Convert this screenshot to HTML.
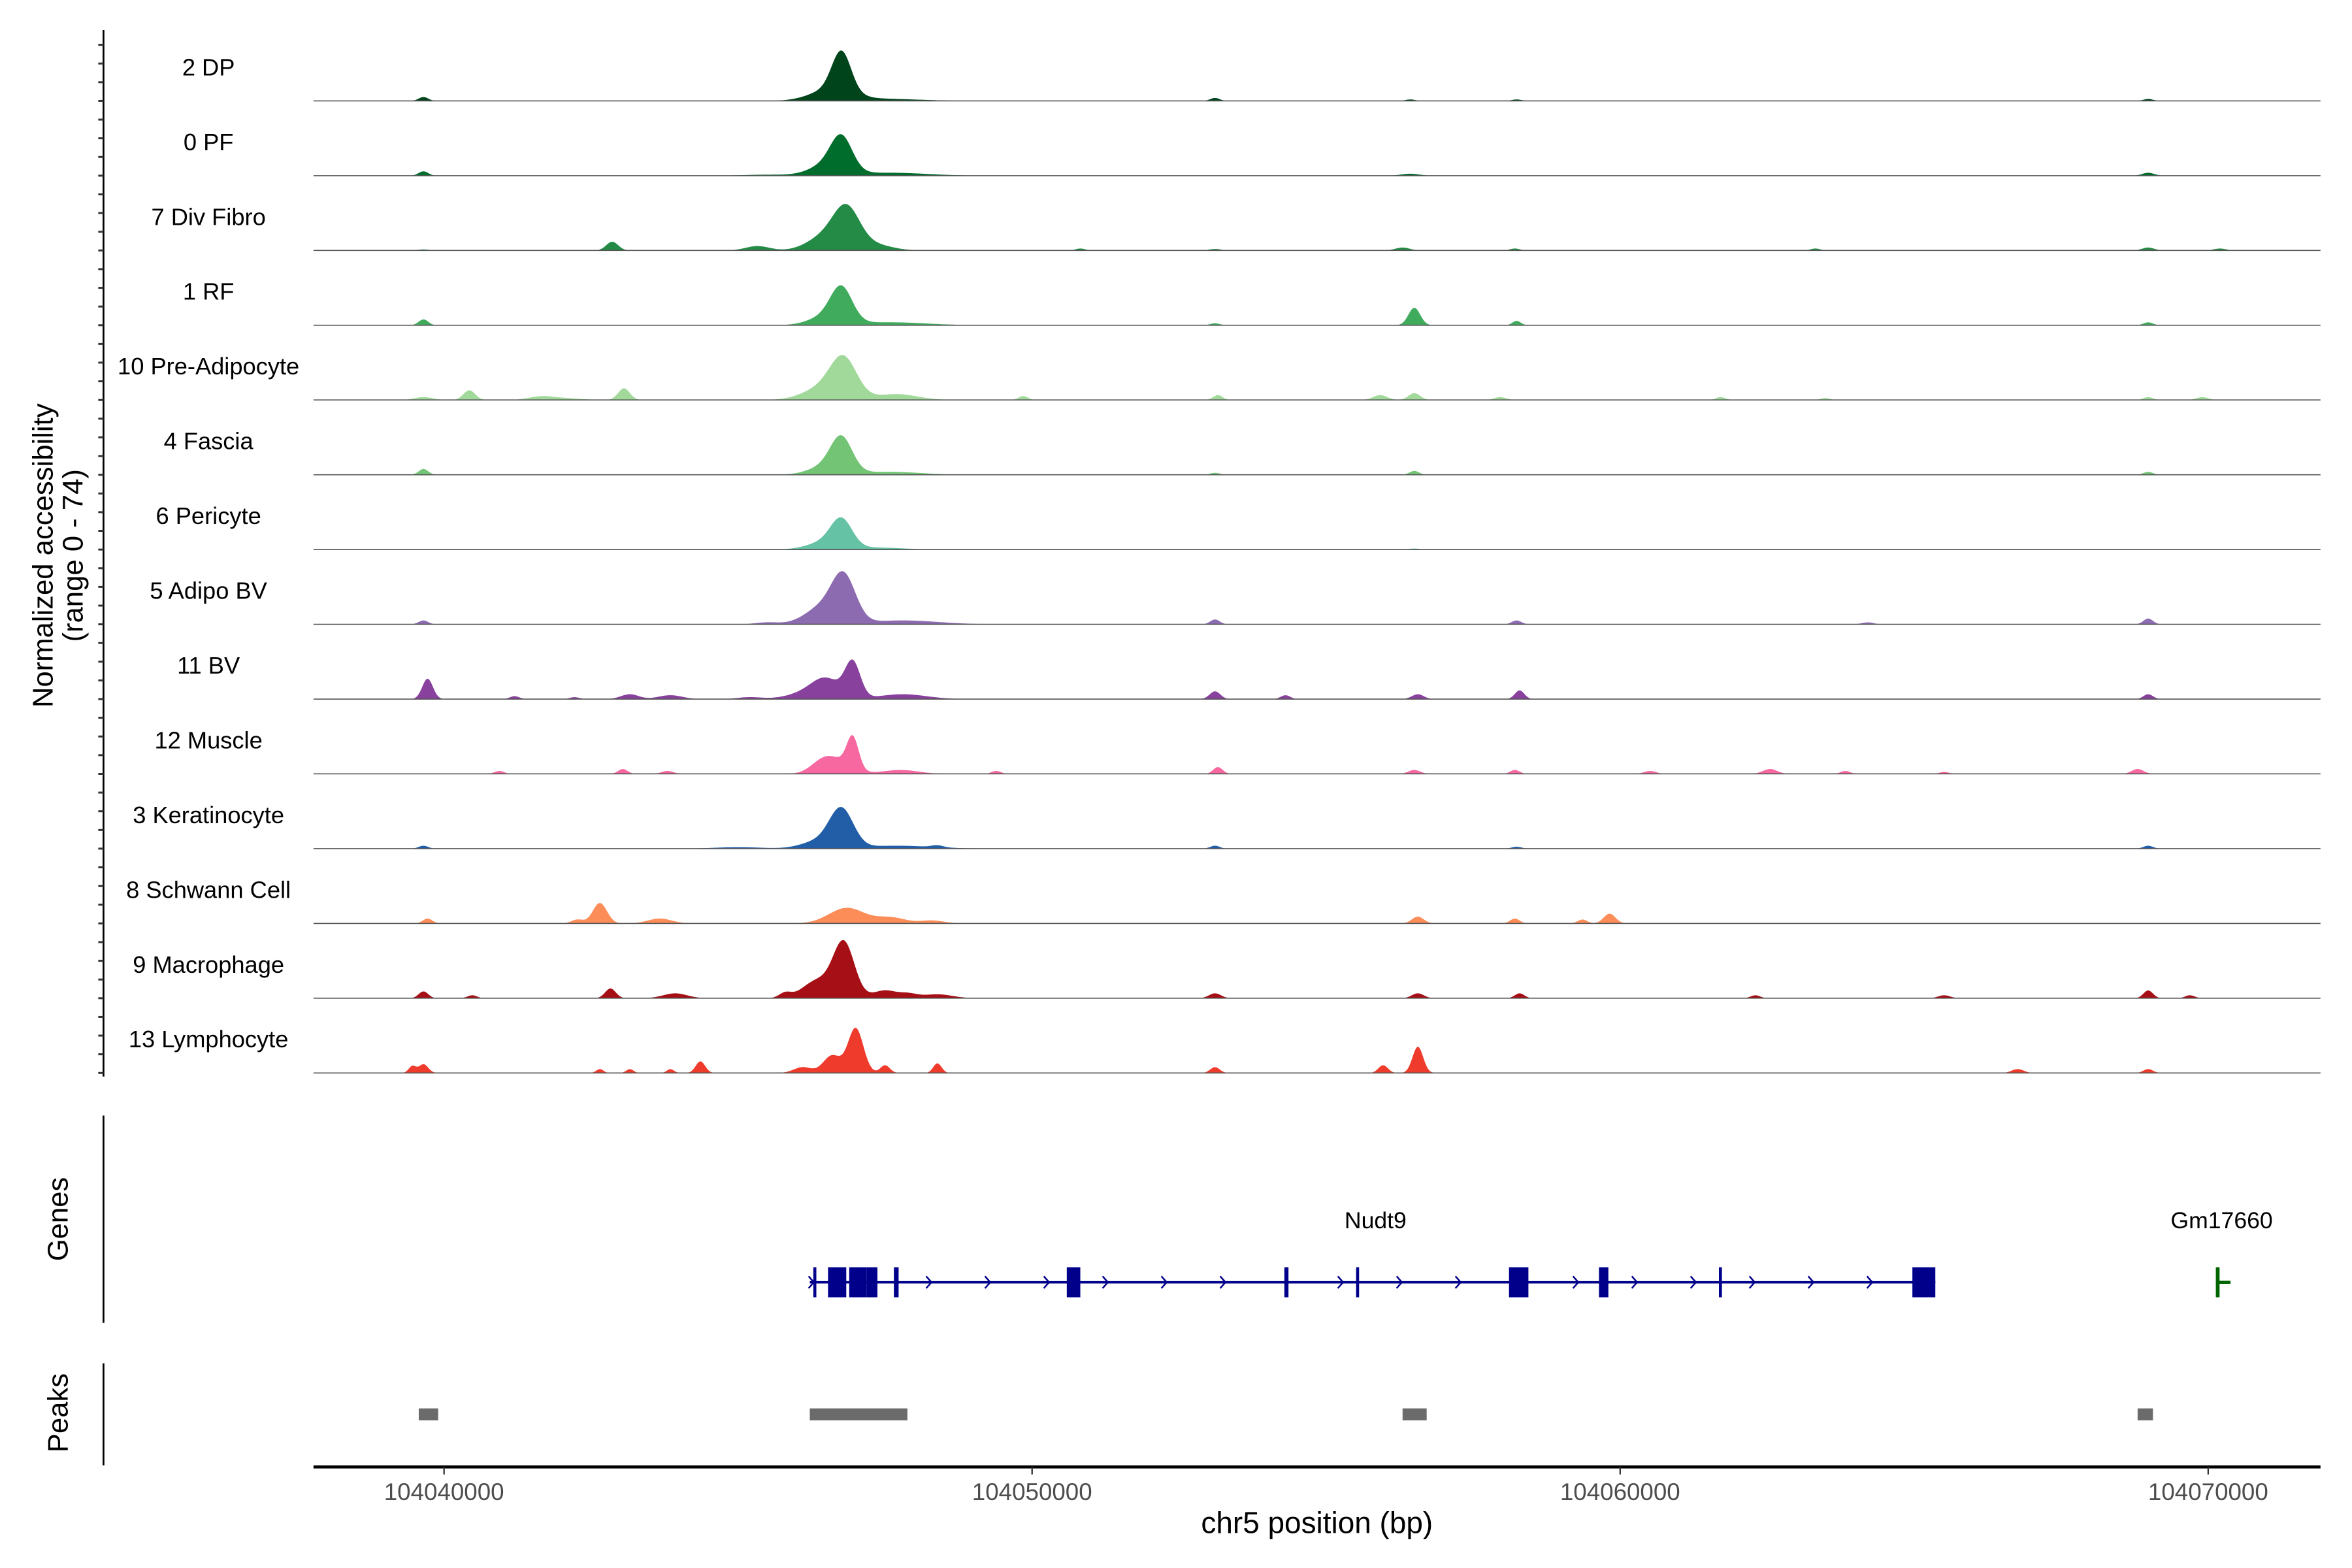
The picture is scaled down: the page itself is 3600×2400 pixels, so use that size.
<!DOCTYPE html>
<html><head><meta charset="utf-8">
<style>
html,body{margin:0;padding:0;background:#fff;}
svg{display:block;font-family:"Liberation Sans",Arial,sans-serif;}
</style></head>
<body>
<svg id="chart" width="3600" height="2400" viewBox="0 0 1568 1044.3" preserveAspectRatio="none" xmlns="http://www.w3.org/2000/svg">
<g id="tracks"></g>
<g id="genes"></g>
<g id="peaks"></g>
<g id="xaxis"></g>
<text transform="translate(35,370) rotate(-90)" text-anchor="middle" font-size="19" fill="#000">Normalized accessibility</text>
<text transform="translate(55,370) rotate(-90)" text-anchor="middle" font-size="19" fill="#000">(range 0 - 74)</text>
<text transform="translate(45,812) rotate(-90)" text-anchor="middle" font-size="19" fill="#000">Genes</text>
<text transform="translate(45,941) rotate(-90)" text-anchor="middle" font-size="19" fill="#000">Peaks</text>
<text x="878" y="1021" text-anchor="middle" font-size="20" fill="#000">chr5 position (bp)</text>
</svg>
<script>
// positions in kb relative to 104040000
const trackNames = ["2 DP","0 PF","7 Div Fibro","1 RF","10 Pre-Adipocyte","4 Fascia","6 Pericyte","5 Adipo BV","11 BV","12 Muscle","3 Keratinocyte","8 Schwann Cell","9 Macrophage","13 Lymphocyte"];
const trackColors = ["#00441b","#006d2c","#238b45","#41ab5d","#a1d99b","#74c476","#66c2a4","#8c6bb1","#88419d","#f768a1","#225ea8","#fc8d59","#a50f15","#ef3b2c"];
// each peak: [position kb, height (0-74), width kb]
const trackPeaks = [
 [[6.76,40,0.16],[6.6,12,0.35],[7.5,2,0.6],[-0.35,4,0.08],[13.11,3,0.08],[16.43,1.5,0.08],[18.24,1.5,0.08],[28.98,2,0.08]],
 [[6.76,32,0.18],[6.55,12,0.3],[7.6,3,0.6],[-0.35,4.5,0.08],[16.43,2,0.15],[28.98,3,0.1],[5.5,1,0.4]],
 [[6.85,38,0.22],[6.5,15,0.3],[7.3,6,0.3],[2.86,9,0.1],[5.33,4.5,0.2],[-0.35,1,0.1],[13.11,1.5,0.1],[16.3,3,0.12],[28.98,3,0.1],[30.2,2,0.1],[23.32,2,0.08],[18.21,2,0.08],[10.82,2,0.08]],
 [[6.76,32,0.18],[6.55,10,0.3],[7.6,3,0.6],[-0.35,6,0.08],[16.5,18,0.1],[18.24,4.5,0.07],[28.98,3,0.08],[13.11,2,0.08]],
 [[6.8,36,0.22],[6.5,14,0.35],[7.7,6,0.35],[0.43,10,0.1],[3.06,12,0.1],[-0.35,3,0.15],[1.63,3,0.2],[9.85,4,0.08],[13.16,5,0.08],[15.92,5,0.12],[16.5,7,0.1],[17.96,3,0.1],[21.71,3,0.08],[23.49,2,0.08],[28.98,3,0.08],[29.9,3,0.1],[2.0,2,0.3]],
 [[6.76,32,0.18],[6.55,10,0.3],[7.6,3,0.5],[-0.35,6,0.08],[16.5,4,0.08],[28.98,3,0.08],[13.11,2,0.08]],
 [[6.76,27,0.18],[6.5,8,0.3],[7.4,2,0.4],[16.5,1,0.1]],
 [[6.8,44,0.2],[6.45,18,0.3],[7.8,4,0.6],[5.5,2,0.2],[-0.35,4,0.08],[13.11,5,0.08],[18.24,4,0.08],[28.98,6,0.08],[24.21,2,0.1]],
 [[6.95,36,0.13],[6.5,20,0.25],[6.1,5,0.3],[7.8,5,0.4],[-0.28,21,0.09],[1.2,3,0.08],[2.22,2,0.08],[3.16,5,0.15],[3.85,4,0.2],[5.2,2,0.2],[13.11,8,0.09],[14.31,4,0.08],[16.56,5,0.1],[18.29,9,0.08],[28.98,5,0.08]],
 [[6.95,32,0.1],[6.43,10,0.2],[6.7,12,0.25],[3.04,5,0.08],[0.94,3,0.08],[3.8,3,0.1],[7.76,4,0.3],[9.39,3,0.08],[13.16,7,0.08],[16.5,4,0.1],[18.21,4,0.08],[20.51,3,0.1],[22.55,5,0.12],[23.83,3,0.08],[25.51,2,0.08],[28.8,5,0.1]],
 [[6.76,38,0.2],[6.4,8,0.3],[7.7,3,0.6],[-0.35,3,0.08],[8.39,2,0.1],[13.11,3,0.08],[18.24,2,0.08],[28.98,3,0.08],[5.0,1.5,0.4]],
 [[6.85,16,0.3],[7.6,6,0.25],[2.65,21,0.12],[2.27,4,0.1],[3.67,5,0.2],[-0.28,5,0.08],[16.56,7,0.1],[18.21,5,0.08],[19.82,10,0.1],[19.36,4,0.08],[8.3,3,0.2]],
 [[6.8,56,0.18],[6.35,18,0.25],[7.5,8,0.2],[5.8,5,0.1],[-0.35,7,0.08],[0.48,3,0.08],[2.83,10,0.09],[3.93,5,0.2],[7.9,4,0.15],[8.39,4,0.25],[13.11,5,0.1],[16.56,5,0.1],[18.29,5,0.08],[22.3,3,0.08],[25.51,3,0.1],[28.98,8,0.08],[29.69,3,0.08]],
 [[7.0,46,0.13],[6.6,18,0.15],[6.1,6,0.15],[-0.35,9,0.08],[-0.54,7,0.06],[2.65,4,0.06],[3.16,4,0.06],[3.85,4,0.06],[4.36,12,0.08],[7.5,8,0.08],[8.39,10,0.07],[13.11,6,0.08],[15.97,8,0.08],[16.56,27,0.09],[26.76,4,0.1],[28.98,4,0.08]]
];
const xTicks = [0,10,20,30];
const xTickLabels = ["104040000","104050000","104060000","104070000"];
const geneStartEnd = [6.22,25.36];
const exonStarts = [6.28,6.53,6.89,7.19,7.65,10.59,14.29,15.51,18.11,19.64,21.68,24.97];
const exonEnds   = [6.33,6.84,7.19,7.37,7.73,10.82,14.36,15.56,18.44,19.80,21.73,25.36];
const geneNames = ["Nudt9","Gm17660"];
const geneLabelPos = [15.84,30.23];
const gene2StartEnd = [30.13,30.38];
const peakStarts = [-0.43,6.22,16.30,28.80];
const peakEnds   = [-0.10,7.88,16.71,29.06];

const NS="http://www.w3.org/2000/svg";
const X0=209,X1=1547,D0=-2.22,D1=31.91;
const xs=v=>X0+(v-D0)/(D1-D0)*(X1-X0);
const yMax=74, trackH=49.8, firstBase=67.2, hPx=48;
function mk(tag,attrs,parent){const e=document.createElementNS(NS,tag);for(const k in attrs)e.setAttribute(k,attrs[k]);parent.appendChild(e);return e;}
const gT=document.getElementById('tracks');
const yl=mk('line',{x1:69,y1:20,x2:69,y2:717,stroke:'#000','stroke-width':1.2},gT);


trackNames.forEach((name,i)=>{
  const base=firstBase+i*trackH;
  const ys=v=>base-v/yMax*hPx;
  const g=mk('g',{},gT);
  
  
  for(let k=0;k<4;k++){
    const t=mk('line',{x1:65.5,x2:69,y1:base-k*12.45,y2:base-k*12.45,stroke:'#333','stroke-width':1.3},g);
    
    
  }
  const lab=mk('text',{x:139,y:base-17,'text-anchor':'middle','font-size':15.8,fill:'#000'},g);
  lab.textContent=name;
  
  
  const peaks=trackPeaks[i];
  let d='M'+X0+','+base;
  for(let px=X0;px<=X1;px+=1){
    const v=D0+(px-X0)/(X1-X0)*(D1-D0);
    let s=0;
    peaks.forEach(p=>{const z=(v-p[0])/p[2];s+=p[1]*Math.exp(-0.5*z*z);});
    s=Math.min(s,yMax);
    d+='L'+px+','+ys(s).toFixed(2);
  }
  d+='L'+X1+','+base+'Z';
  const a=mk('path',{d:d,fill:trackColors[i],stroke:'none'},g);
  
  
  const bl=mk('line',{x1:X0,x2:X1,y1:base,y2:base,stroke:'#555','stroke-width':0.7},g);
  
  
});
const gG=document.getElementById('genes');
const ga=mk('line',{x1:69,y1:743,x2:69,y2:881,stroke:'#000','stroke-width':1.2},gG);


const gy=854;
const gl=mk('line',{x1:xs(geneStartEnd[0]),x2:xs(geneStartEnd[1]),y1:gy,y2:gy,stroke:'#00008b','stroke-width':1.6},gG);


for(let p=geneStartEnd[0]+0.03;p<geneStartEnd[1];p+=1.0){
  let inside=false;exonStarts.forEach((s,j)=>{if(p>=s-0.05&&p<=exonEnds[j]+0.05)inside=true;});
  if(inside&&p>geneStartEnd[0]+0.1)continue;
  const x=xs(p);
  const ar=mk('path',{d:`M${x-2},${gy-4}L${x+1.5},${gy}L${x-2},${gy+4}`,fill:'none',stroke:'#00008b','stroke-width':1.1},gG);
  
  
}
exonStarts.forEach((s,j)=>{
  const x=xs(s),w=Math.max(2,xs(exonEnds[j])-x);
  const r=mk('rect',{x:x,y:gy-10,width:w,height:20,fill:'#00008b'},gG);
  
  
});
const g2=mk('rect',{x:xs(gene2StartEnd[0]),y:gy-10,width:2.5,height:20,fill:'#006400'},gG);


const g2l=mk('line',{x1:xs(gene2StartEnd[0]),x2:xs(gene2StartEnd[1]),y1:gy,y2:gy,stroke:'#006400','stroke-width':2},gG);


geneNames.forEach((n,j)=>{
  const t=mk('text',{x:xs(geneLabelPos[j]),y:818,'text-anchor':'middle','font-size':15.5,fill:'#000'},gG);
  t.textContent=n;
  
  
});
const gP=document.getElementById('peaks');
const pa=mk('line',{x1:69,y1:908,x2:69,y2:976,stroke:'#000','stroke-width':1.2},gP);


peakStarts.forEach((s,j)=>{
  const r=mk('rect',{x:xs(s),y:938,width:xs(peakEnds[j])-xs(s),height:8,fill:'#6b6b6b'},gP);
  
  
});
const gX=document.getElementById('xaxis');
const xl=mk('line',{x1:X0,x2:X1,y1:977,y2:977,stroke:'#000','stroke-width':2},gX);


xTicks.forEach((v,j)=>{
  const x=xs(v);
  const t=mk('line',{x1:x,x2:x,y1:977,y2:982,stroke:'#333','stroke-width':1},gX);
  
  
  const l=mk('text',{x:x,y:999,'text-anchor':'middle','font-size':16,fill:'#4d4d4d'},gX);
  l.textContent=xTickLabels[j];
  
  
});
</script>
</body></html>
